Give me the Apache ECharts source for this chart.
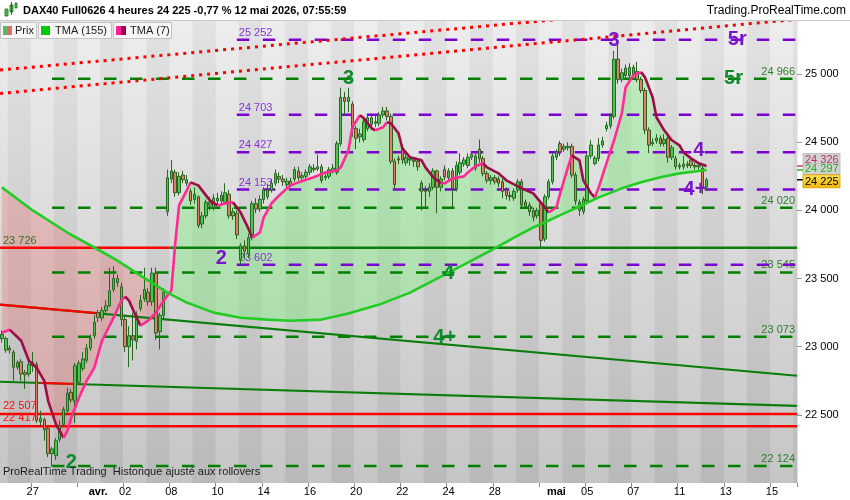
<!DOCTYPE html>
<html>
<head>
<meta charset="utf-8">
<title>DAX40 Full0626 4 heures</title>
<script src="https://cdn.jsdelivr.net/npm/echarts@6.0.0/dist/echarts.min.js"></script>
<style>
  html, body { margin: 0; padding: 0; background: #fff; }
  #main { width: 850px; height: 500px; }
</style>
</head>
<body>
<div id="main"></div>
<script>
// bougies 4h : [ouverture, clôture, plus bas, plus haut], 6 par séance (2 seulement le 25/03 et le 12/05)
const bars = [
  // 25/03
  [23060, 23090, 23030, 23120], [22975, 23060, 22955, 23075],
  // 26/03
  [22990, 22975, 22950, 23010], [22960, 22850, 22750, 22975], [22850, 22885, 22830, 22900],
  [22890, 22800, 22750, 22910], [22810, 22795, 22690, 22830], [22800, 22870, 22780, 22900],
  // 27/03
  [22860, 22885, 22815, 22960], [22870, 22460, 22440, 22890], [22450, 22475, 22420, 22530],
  [22465, 22390, 22310, 22480], [22400, 22215, 22190, 22410], [22215, 22250, 22124, 22265],
  // 30/03
  [22200, 22310, 22170, 22330], [22320, 22420, 22300, 22460], [22430, 22540, 22415, 22560],
  [22530, 22660, 22515, 22700], [22665, 22610, 22590, 22690], [22600, 22860, 22440, 22880],
  // 31/03
  [22740, 22880, 22720, 22900], [22840, 22910, 22820, 22960], [22900, 22990, 22880, 23020],
  [22990, 23060, 22970, 23090], [23080, 23180, 23060, 23230], [23250, 23215, 23180, 23270],
  // 01/04
  [23210, 23265, 23190, 23290], [23265, 23300, 23250, 23340], [23300, 23410, 23290, 23580],
  [23420, 23500, 23400, 23590], [23500, 23470, 23440, 23530], [23440, 23200, 23150, 23470],
  // 02/04
  [23200, 23000, 22960, 23230], [23000, 23080, 22850, 23150], [23080, 23050, 22900, 23250],
  [23040, 23230, 22980, 23260], [23280, 23340, 23260, 23380], [23350, 23420, 23330, 23580],
  // 07/04
  [23400, 23330, 23300, 23430], [23330, 23540, 23300, 23580], [23540, 23100, 23050, 23580],
  [23110, 23230, 22980, 23250], [23230, 23400, 23200, 23430], [23990, 24240, 23960, 24300],
  // 08/04
  [24230, 24290, 24200, 24370], [24280, 24130, 24100, 24300], [24130, 24250, 24110, 24280],
  [24260, 24225, 24200, 24290], [24200, 24225, 24180, 24260], [24140, 24070, 24040, 24160],
  // 09/04
  [24080, 24120, 24050, 24170], [24100, 23890, 23870, 24110], [23900, 23960, 23870, 23990],
  [23960, 24060, 23940, 24080], [24060, 24040, 24000, 24100], [24020, 24090, 24000, 24120],
  // 10/04
  [24090, 24070, 24040, 24130], [24070, 24110, 24050, 24140], [24060, 24130, 24050, 24200],
  [24120, 23960, 23940, 24150], [23960, 23990, 23930, 24020], [23980, 23820, 23790, 24000],
  // 13/04
  [23640, 23740, 23602, 23760], [23740, 23700, 23640, 23780], [23680, 23800, 23650, 23830],
  [23800, 24050, 23780, 24070], [24050, 24010, 23980, 24090], [24010, 24080, 23990, 24110],
  // 14/04
  [24080, 24150, 24050, 24170], [24100, 24150, 24080, 24190], [24150, 24200, 24130, 24230],
  [24200, 24270, 24180, 24300], [24250, 24230, 24200, 24280], [24230, 24210, 24180, 24260],
  // 15/04
  [24190, 24215, 24170, 24240], [24215, 24190, 24170, 24240], [24230, 24300, 24210, 24320],
  [24290, 24240, 24220, 24320], [24240, 24255, 24220, 24280], [24250, 24280, 24230, 24300],
  // 16/04
  [24280, 24320, 24260, 24340], [24310, 24300, 24280, 24340], [24305, 24320, 24290, 24410],
  [24320, 24220, 24200, 24340], [24240, 24250, 24220, 24280], [24250, 24300, 24230, 24320],
  // 17/04
  [24290, 24310, 24270, 24340], [24280, 24490, 24260, 24510], [24490, 24830, 24470, 24900],
  [24830, 24800, 24700, 24870], [24800, 24830, 24720, 24900], [24780, 24600, 24540, 24800],
  // 20/04
  [24600, 24530, 24450, 24620], [24540, 24560, 24500, 24600], [24520, 24650, 24500, 24680],
  [24600, 24680, 24580, 24700], [24680, 24630, 24600, 24700], [24640, 24650, 24610, 24700],
  // 21/04
  [24640, 24700, 24620, 24720], [24700, 24730, 24680, 24760], [24730, 24690, 24660, 24760],
  [24690, 24360, 24340, 24710], [24360, 24190, 24160, 24380], [24380, 24370, 24340, 24400],
  // 22/04
  [24460, 24370, 24340, 24480], [24350, 24390, 24330, 24420], [24370, 24380, 24330, 24400],
  [24370, 24360, 24320, 24390], [24360, 24320, 24290, 24380], [24200, 24140, 24000, 24220],
  // 23/04
  [24150, 24140, 24020, 24180], [24140, 24170, 24100, 24200], [24170, 24290, 24150, 24310],
  [24290, 24170, 23980, 24300], [24170, 24230, 24140, 24250], [24300, 24245, 24220, 24330],
  // 24/04
  [24240, 24290, 24220, 24310], [24290, 24160, 24020, 24310], [24160, 24330, 24140, 24360],
  [24280, 24350, 24260, 24420], [24340, 24370, 24320, 24390], [24330, 24390, 24310, 24420],
  // 27/04
  [24390, 24410, 24370, 24430], [24310, 24400, 24290, 24430], [24450, 24380, 24350, 24520],
  [24380, 24270, 24250, 24400], [24270, 24220, 24200, 24290], [24220, 24240, 24190, 24260],
  // 28/04
  [24240, 24210, 24190, 24260], [24230, 24200, 24170, 24250], [24210, 24140, 24090, 24230],
  [24150, 24110, 24080, 24170], [24110, 24100, 24070, 24140], [24090, 24140, 24070, 24160],
  // 29/04
  [24150, 24210, 24130, 24230], [24210, 24040, 24020, 24230], [24060, 24030, 24010, 24080],
  [24040, 23990, 23960, 24060], [24000, 23950, 23920, 24020], [23960, 24000, 23940, 24020],
  // 30/04
  [24050, 23780, 23730, 24070], [23790, 24100, 23770, 24120], [24100, 24210, 24080, 24230],
  [24210, 24400, 24190, 24420], [24390, 24430, 24370, 24450], [24490, 24430, 24400, 24510],
  // 04/05
  [24450, 24470, 24430, 24490], [24460, 24470, 24440, 24500], [24470, 24260, 24240, 24490],
  [24260, 24070, 24040, 24280], [24000, 24060, 23960, 24080], [23990, 24080, 23970, 24100],
  // 05/05
  [24070, 24400, 24050, 24420], [24400, 24480, 24380, 24515], [24345, 24385, 24330, 24400],
  [24380, 24480, 24360, 24530], [24480, 24510, 24460, 24540], [24600, 24625, 24580, 24650],
  // 06/05
  [24620, 24690, 24600, 24710], [24690, 25110, 24670, 25170], [25110, 24960, 24930, 25252],
  [24960, 25010, 24940, 25040], [24990, 25045, 24970, 25070], [24990, 25050, 24970, 25080],
  // 07/05
  [25000, 25050, 24980, 25070], [25020, 24960, 24940, 25090], [24960, 24880, 24860, 24980],
  [24880, 24590, 24560, 24900], [24590, 24480, 24420, 24610], [24490, 24500, 24470, 24530],
  // 08/05
  [24510, 24530, 24490, 24560], [24530, 24490, 24470, 24550], [24490, 24520, 24470, 24560],
  [24530, 24390, 24350, 24560], [24390, 24460, 24370, 24480], [24380, 24320, 24300, 24400],
  // 11/05
  [24330, 24320, 24300, 24350], [24320, 24340, 24300, 24400], [24340, 24330, 24310, 24360],
  [24370, 24330, 24310, 24390], [24330, 24320, 24300, 24350], [24320, 24330, 24300, 24350],
  // 12/05
  [24310, 24170, 24120, 24330], [24170, 24225, 24150, 24240]
];

// moyenne triangulaire 155 (index de bougie / valeur)
const tma155Idx = [0, 8, 17, 24, 30, 36, 43, 48, 55, 62, 69, 75, 83, 90, 98, 106, 114, 122, 128, 133,
  138, 142, 146, 150, 155, 161, 166, 171, 176, 183];
const tma155Val = [24169, 24000, 23838, 23728, 23632, 23522, 23397, 23324, 23250, 23213, 23199, 23191,
  23199, 23243, 23309, 23397, 23515, 23632, 23721, 23801, 23875, 23926, 23978, 24029, 24096, 24162,
  24206, 24243, 24272, 24297];

// moyenne triangulaire 7
const tma7Idx = [0, 2, 5, 7, 9, 11, 12, 14, 16, 17, 18, 20, 22, 24, 26, 29, 31, 32, 33, 35,
  36, 38, 40, 42, 44, 45, 46, 48, 49, 51, 54, 56, 58, 60, 62, 64, 65, 67, 68, 70,
  72, 74, 75, 77, 81, 84, 87, 88, 90, 91, 93, 94, 96, 97, 99, 100, 101, 103, 104, 106,
  109, 110, 112, 114, 115, 117, 120, 121, 123, 125, 126, 129, 131, 135, 138, 141, 142, 144, 145, 147,
  148, 150, 151, 153, 154, 155, 157, 159, 161, 162, 164, 166, 167, 169, 170, 172, 174, 176, 177, 179,
  181, 183];
const tma7Val = [23103, 23125, 23044, 22897, 22846, 22750, 22603, 22434, 22331, 22382,
  22478, 22625, 22750, 22846, 23044, 23213, 23338, 23368, 23338, 23213,
  23154, 23191, 23250, 23338, 23412, 23757, 24037, 24147, 24206, 24184,
  24074, 24037, 24051, 24059, 23985, 23868, 23801, 23838, 23949, 24051,
  24110, 24162, 24184, 24206, 24243, 24279, 24294, 24316, 24441, 24610,
  24699, 24676, 24603, 24588, 24610, 24647, 24640, 24566, 24456, 24390,
  24368, 24316, 24243, 24199, 24199, 24235, 24250, 24279, 24324, 24346,
  24316, 24272, 24221, 24162, 24125, 24022, 23985, 24022, 24125, 24316,
  24404, 24368, 24221, 24125, 24096, 24169, 24346, 24515, 24713, 24904,
  24993, 25015, 24978, 24831, 24684, 24588, 24515, 24478, 24426, 24382,
  24346, 24326];
const cloudCrossIdx = 43; // la TMA 7 passe au-dessus de la TMA 155

// axe du temps
const slotCount = 207;
const tickLabels = ['27', 'avr.', '02', '08', '10', '14', '16', '20', '22', '24', '28', 'mai', '05', '07', '11', '13', '15'];
const tickLabelIdx = [8, 25, 32, 44, 56, 68, 80, 92, 104, 116, 128, 144, 152, 164, 176, 188, 200];
const monthTickIdx = [20, 140];

// niveaux tracés
const purpleLevels = [25252, 24703, 24427, 24153, 23602];
const purpleFrom = 61;
const greenLevels = [24966, 24020, 23545, 23073, 22124];
const greenFrom = 13;
const redLevels = [22507, 22417];
const pivotLevel = 23726;
const pivotTurnIdx = 44;
const trendLeft = [23309, 22743];
const trendRight = [22787, 22566];
const trendRedFrom = [-1, 10];
const trendRedTo = [26, 19];
const chanLeft = [25030, 24858];
const chanRight = [25560, 25402];

// comptage des vagues
const greenWaveText = ['2', '3', '4', '4+', '5r'];
const greenWaveIdx = [18, 90, 116, 115, 190];
const greenWaveVal = [22147, 24971, 23537, 23066, 24971];
const purpleWaveText = ['2', '3', '4', '4+', '5r'];
const purpleWaveIdx = [57, 159, 181, 180, 191];
const purpleWaveVal = [23647, 25250, 24441, 24154, 25254];

const FONT = '"Liberation Sans", Arial, sans-serif';
const fmt = v => String(Math.round(v)).replace(/\B(?=(\d{3})+(?!\d))/g, ' ');

const cats = [];
for (let i = 0; i < slotCount; i++) cats.push(String(i));
const labelAt = {};
tickLabelIdx.forEach((k, n) => { labelAt[k] = tickLabels[n]; });
const tickSet = new Set(tickLabelIdx.filter((k, n) => tickLabels[n] !== 'avr.' && tickLabels[n] !== 'mai').concat(monthTickIdx));

const dayStarts = [0];
for (let s = 2; s < slotCount; s += 6) dayStarts.push(s);

const lastClose = bars[bars.length - 1][1];
const lastIdx = bars.length - 1;

var myChart = echarts.init(document.getElementById('main'));

function bandRender(params, api) {
  const cs = params.coordSys;
  const bw = api.size([1, 0])[0];
  const k = params.dataIndex;
  const start = api.value(0);
  const next = k + 1 < dayStarts.length ? dayStarts[k + 1] : slotCount;
  const x0 = api.coord([start, 22000])[0] - bw / 2;
  const dark = (k % 2) === 1;
  return {
    type: 'rect',
    shape: { x: x0, y: cs.y, width: bw * (next - start) + 0.5, height: cs.height },
    style: {
      fill: new echarts.graphic.LinearGradient(0, 0, 0, 1, dark
        ? [{ offset: 0, color: '#e2e2e2' }, { offset: 1, color: '#b9b9b9' }]
        : [{ offset: 0, color: '#ededed' }, { offset: 1, color: '#c5c5c5' }])
    }
  };
}

function cloudRender(params, api) {
  const top = tma7Idx.map((x, k) => api.coord([x, tma7Val[k]]));
  const bottom = tma155Idx.map((x, k) => api.coord([x, tma155Val[k]])).reverse();
  const xc = api.coord([cloudCrossIdx, 23000])[0] + api.size([1, 0])[0] / 2;
  return {
    type: 'polygon',
    shape: { points: top.concat(bottom) },
    style: {
      fill: new echarts.graphic.LinearGradient(xc - 0.5, 0, xc + 0.5, 0, [
        { offset: 0, color: 'rgba(235,110,110,0.33)' },
        { offset: 1, color: 'rgba(120,240,120,0.40)' }
      ], true)
    }
  };
}

function levelRender(color, labelColor, atEnd) {
  return function (params, api) {
    const cs = params.coordSys;
    const v = api.value(1);
    const p = api.coord([api.value(0), v]);
    const xEnd = cs.x + cs.width;
    return {
      type: 'group',
      children: [
        { type: 'line', shape: { x1: p[0], y1: p[1], x2: xEnd, y2: p[1] },
          style: { stroke: color, lineWidth: 2.5, lineDash: [12.5, 13.5] } },
        { type: 'text', x: atEnd ? xEnd - 2 : p[0] + 2, y: p[1] - 7,
          style: { text: fmt(v), fill: labelColor, font: '11px ' + FONT,
            align: atEnd ? 'right' : 'left', verticalAlign: 'middle' } }
      ]
    };
  };
}

function supportRender(params, api) {
  const cs = params.coordSys;
  const v = api.value(1);
  const y = api.coord([0, v])[1];
  return {
    type: 'group',
    children: [
      { type: 'line', shape: { x1: cs.x, y1: y, x2: cs.x + cs.width, y2: y },
        style: { stroke: '#ff0000', lineWidth: 2.5 } },
      { type: 'text', x: cs.x + 3, y: y - 8,
        style: { text: fmt(v), fill: '#ff1010', font: '11px ' + FONT, align: 'left', verticalAlign: 'middle' } }
    ]
  };
}

function pivotRender(params, api) {
  const cs = params.coordSys;
  const v = api.value(1);
  const y = api.coord([0, v])[1];
  const xs = api.coord([api.value(0), v])[0] - api.size([1, 0])[0] / 2;
  return {
    type: 'group',
    children: [
      { type: 'line', shape: { x1: cs.x, y1: y, x2: xs, y2: y }, style: { stroke: '#ff0000', lineWidth: 2.5 } },
      { type: 'line', shape: { x1: xs, y1: y, x2: cs.x + cs.width, y2: y }, style: { stroke: '#0b7d0b', lineWidth: 2.5 } },
      { type: 'text', x: cs.x + 3, y: y - 7,
        style: { text: fmt(v), fill: '#3b6f1c', font: '11px ' + FONT, align: 'left', verticalAlign: 'middle' } }
    ]
  };
}

function trendRender(params, api) {
  const k = params.dataIndex;
  const cs = params.coordSys;
  const x0 = cs.x, x1 = cs.x + cs.width;
  const yL = api.coord([0, trendLeft[k]])[1];
  const yR = api.coord([0, trendRight[k]])[1];
  const yAt = x => yL + (yR - yL) * (x - x0) / (x1 - x0);
  const rs = trendRedFrom[k] < 0 ? x0 : api.coord([trendRedFrom[k], 23000])[0];
  const re = api.coord([trendRedTo[k], 23000])[0];
  return {
    type: 'group',
    children: [
      { type: 'line', shape: { x1: x0, y1: yL, x2: x1, y2: yR }, style: { stroke: '#0b7d0b', lineWidth: 2.2 } },
      { type: 'line', shape: { x1: rs, y1: yAt(rs), x2: re, y2: yAt(re) }, style: { stroke: '#ff0000', lineWidth: 2.2 } }
    ]
  };
}

function channelRender(params, api) {
  const k = params.dataIndex;
  const cs = params.coordSys;
  return {
    type: 'line',
    shape: { x1: cs.x, y1: api.coord([0, chanLeft[k]])[1], x2: cs.x + cs.width, y2: api.coord([0, chanRight[k]])[1] },
    style: { stroke: '#ff0000', lineWidth: 3, lineDash: [3, 5] }
  };
}

function tma7Render(params, api) {
  const pts = tma7Idx.map((x, k) => api.coord([x, tma7Val[k]]));
  const children = [];
  let start = 0;
  for (let k = 1; k < pts.length; k++) {
    const up = tma7Val[k] >= tma7Val[k - 1];
    const nextUp = k + 1 < pts.length ? tma7Val[k + 1] >= tma7Val[k] : !up;
    if (nextUp !== up) {
      children.push({
        type: 'polyline',
        shape: { points: pts.slice(start, k + 1) },
        style: { stroke: up ? '#ff2a93' : '#9c0d48', lineWidth: 2.6, fill: null, lineJoin: 'round' }
      });
      start = k;
    }
  }
  return { type: 'group', children: children };
}

function waveRender(texts, color) {
  return function (params, api) {
    const p = api.coord([api.value(0), api.value(1)]);
    return {
      type: 'text', x: p[0], y: p[1],
      style: { text: texts[params.dataIndex], fill: color, font: 'bold 20px ' + FONT, align: 'center', verticalAlign: 'middle' }
    };
  };
}

const tagStyle = [
  { off: -7, h: 11, line: '#d0307a', text: '#c0306a', fill: '#d2d2d2' },
  { off: -1, h: 11, line: '#22bb22', text: '#1fae1f', fill: '#d2d2d2' },
  { off: 1.5, h: 13, line: '#000000', text: '#000000', fill: null }
];
function tagRender(params, api) {
  const cs = params.coordSys;
  const s = tagStyle[params.dataIndex];
  const v = api.value(1);
  const y = api.coord([lastIdx, v])[1];
  const xr = cs.x + cs.width;
  const cy = y + s.off;
  const fill = s.fill || new echarts.graphic.LinearGradient(0, 0, 0, 1, [
    { offset: 0, color: '#ffe45a' }, { offset: 1, color: '#f2b400' }]);
  return {
    type: 'group',
    children: [
      { type: 'line', shape: { x1: xr, y1: y, x2: xr + 6, y2: y }, style: { stroke: s.line, lineWidth: 1.5 } },
      { type: 'rect', shape: { x: xr + 6, y: cy - s.h / 2, width: 37, height: s.h },
        style: { fill: fill, stroke: s.fill ? '#b8b8b8' : '#d0a000', lineWidth: 0.8 } },
      { type: 'text', x: xr + 8, y: cy + 0.5,
        style: { text: fmt(v), fill: s.text, font: '11px ' + FONT, align: 'left', verticalAlign: 'middle' } }
    ]
  };
}

var option = {
  backgroundColor: '#ffffff',
  animation: false,
  grid: { left: 0, right: 53, top: 21, bottom: 17, containLabel: false, outerBoundsMode: 'none' },
  xAxis: {
    type: 'category',
    data: cats,
    boundaryGap: true,
    axisLine: { show: false },
    axisTick: { show: true, length: 4, interval: (i) => tickSet.has(i), lineStyle: { color: '#8a8a8a' } },
    axisLabel: {
      interval: (i) => labelAt[i] !== undefined,
      formatter: (v, i) => {
        const t = labelAt[i] || '';
        return (t === 'avr.' || t === 'mai') ? '{b|' + t + '}' : t;
      },
      color: '#000', fontSize: 11, fontFamily: FONT, margin: 3,
      rich: { b: { fontWeight: 'bold', fontSize: 11, fontFamily: FONT, color: '#000' } }
    },
    splitLine: { show: false }
  },
  yAxis: {
    type: 'value',
    position: 'right',
    min: 22000,
    max: 25390,
    interval: 500,
    splitLine: { show: false },
    axisLine: { show: false },
    axisTick: { show: true, length: 5, lineStyle: { color: '#999' } },
    axisLabel: {
      color: '#000', fontSize: 11, fontFamily: FONT, margin: 8,
      showMinLabel: false, showMaxLabel: false,
      formatter: fmt
    }
  },
  graphic: [
    // en-tête
    { type: 'line', shape: { x1: 0, y1: 20.5, x2: 850, y2: 20.5 }, style: { stroke: '#c8c8c8', lineWidth: 1 } },
    { type: 'rect', shape: { x: 5, y: 9, width: 3, height: 7 }, style: { fill: '#4cbf4c', stroke: '#236b23', lineWidth: 0.8 } },
    { type: 'rect', shape: { x: 10, y: 5, width: 3, height: 7 }, style: { fill: '#4cbf4c', stroke: '#236b23', lineWidth: 0.8 } },
    { type: 'line', shape: { x1: 11.5, y1: 2, x2: 11.5, y2: 15 }, style: { stroke: '#236b23', lineWidth: 1 } },
    { type: 'rect', shape: { x: 15, y: 3, width: 2, height: 5 }, style: { fill: '#4cbf4c', stroke: '#236b23', lineWidth: 0.8 } },
    { type: 'text', x: 23, y: 11, style: { text: 'DAX40 Full0626 4 heures 24 225 -0,77 % 12 mai 2026, 07:55:59',
      font: 'bold 11px ' + FONT, fill: '#000', verticalAlign: 'middle' } },
    { type: 'text', x: 846, y: 11, style: { text: 'Trading.ProRealTime.com',
      font: '12px ' + FONT, fill: '#000', align: 'right', verticalAlign: 'middle' } },
    // légende
    { type: 'rect', z: 100, shape: { x: 0.5, y: 22.5, width: 36, height: 16 }, style: { fill: '#f6f6f6', stroke: '#c2c2c2' } },
    { type: 'rect', z: 100, shape: { x: 3, y: 26, width: 5, height: 9 }, style: { fill: '#5cb85c' } },
    { type: 'rect', z: 100, shape: { x: 8, y: 26, width: 4, height: 9 }, style: { fill: '#e06a6a' } },
    { type: 'text', z: 100, x: 15, y: 31, style: { text: 'Prix', font: '11px ' + FONT, fill: '#222', verticalAlign: 'middle' } },
    { type: 'rect', z: 100, shape: { x: 38.5, y: 22.5, width: 73, height: 16 }, style: { fill: '#f6f6f6', stroke: '#c2c2c2' } },
    { type: 'rect', z: 100, shape: { x: 41, y: 26, width: 9, height: 9 }, style: { fill: '#00cc00' } },
    { type: 'text', z: 100, x: 55, y: 31, style: { text: 'TMA (155)', font: '11px ' + FONT, fill: '#222', verticalAlign: 'middle' } },
    { type: 'rect', z: 100, shape: { x: 113.5, y: 22.5, width: 58, height: 16 }, style: { fill: '#f6f6f6', stroke: '#c2c2c2' } },
    { type: 'rect', z: 100, shape: { x: 116, y: 26, width: 5, height: 9 }, style: { fill: '#ff1f8e' } },
    { type: 'rect', z: 100, shape: { x: 121, y: 26, width: 5, height: 9 }, style: { fill: '#a0004f' } },
    { type: 'text', z: 100, x: 130, y: 31, style: { text: 'TMA (7)', font: '11px ' + FONT, fill: '#222', verticalAlign: 'middle' } },
    // mention en bas
    { type: 'text', z: 100, x: 3, y: 472, style: { text: 'ProRealTime Trading  Historique ajusté aux rollovers',
      font: '11px ' + FONT, fill: '#1a1a1a', verticalAlign: 'middle' } }
  ],
  series: [
    { name: 'fond', type: 'custom', z: 0, silent: true, renderItem: bandRender,
      data: dayStarts.map(s => [s, 22000]) },
    { name: 'nuage', type: 'custom', z: 1, silent: true, renderItem: cloudRender, data: [[0, 23000]] },
    { name: 'pivot', type: 'custom', z: 2, silent: true, renderItem: pivotRender, data: [[pivotTurnIdx, pivotLevel]] },
    { name: 'supports', type: 'custom', z: 2, silent: true, renderItem: supportRender, data: redLevels.map(v => [0, v]) },
    { name: 'tendances', type: 'custom', z: 2, silent: true, renderItem: trendRender, data: trendLeft.map(v => [0, v]) },
    { name: 'niveaux verts', type: 'custom', z: 2, silent: true, renderItem: levelRender('#008000', '#2b7d2b', true),
      data: greenLevels.map(v => [greenFrom, v]) },
    { name: 'niveaux violets', type: 'custom', z: 2, silent: true, renderItem: levelRender('#7d00d2', '#8533d6', false),
      data: purpleLevels.map(v => [purpleFrom, v]) },
    {
      name: 'Prix',
      type: 'candlestick',
      z: 3,
      barWidth: 3,
      data: bars,
      itemStyle: { color: '#50c250', color0: '#e27d6a', borderColor: '#236b23', borderColor0: '#2f5f20', borderWidth: 1 }
    },
    {
      name: 'TMA (155)',
      type: 'line',
      z: 4,
      silent: true,
      showSymbol: false,
      data: tma155Idx.map((x, k) => [x, tma155Val[k]]),
      lineStyle: { color: '#22cc22', width: 2.6 }
    },
    { name: 'TMA (7)', type: 'custom', z: 4, silent: true, renderItem: tma7Render, data: [[0, 23000]] },
    { name: 'canal', type: 'custom', z: 5, silent: true, clip: true, renderItem: channelRender, data: chanLeft.map(v => [0, v]) },
    { name: 'vagues vertes', type: 'custom', z: 6, silent: true, renderItem: waveRender(greenWaveText, '#0d8a2a'),
      data: greenWaveIdx.map((x, k) => [x, greenWaveVal[k]]) },
    { name: 'vagues violettes', type: 'custom', z: 6, silent: true, renderItem: waveRender(purpleWaveText, '#7a14cc'),
      data: purpleWaveIdx.map((x, k) => [x, purpleWaveVal[k]]) },
    { name: 'étiquettes', type: 'custom', z: 7, silent: true, renderItem: tagRender,
      data: [[lastIdx, tma7Val[tma7Val.length - 1]], [lastIdx, tma155Val[tma155Val.length - 1]], [lastIdx, lastClose]] }
  ]
};

myChart.setOption(option);
window.onresize = () => {
  myChart.resize();
};
</script>
</body>
</html>
